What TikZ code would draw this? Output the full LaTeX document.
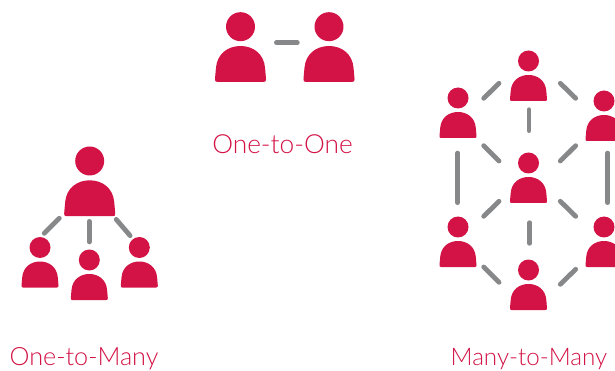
\documentclass[tikz,border=0pt]{standalone}
\usepackage{fontspec}
\usepackage{tikz}
\setmainfont{Lato Light}
\definecolor{crimson}{HTML}{D31245}
\definecolor{linkgray}{HTML}{87888A}

\begin{document}
\begin{tikzpicture}[x=1pt,y=-1pt,
    person/.style={inner sep=0pt,minimum width=38pt*#1,minimum height=52pt*#1,
      path picture={
        \fill[crimson,shift={(path picture bounding box.center)},x=#1pt,y=-#1pt]
          (0,-14.5) circle (10.5)
          (-18.5,23.5) -- (-17.8,15.5) .. controls (-17,5) and (-9,-.5) .. (0,-.5)
          .. controls (9,-.5) and (17,5) .. (17.8,15.5) -- (18.5,23.5)
          .. controls (18.7,25) and (18,25.5) .. (16.8,25.5) -- (-16.8,25.5)
          .. controls (-18,25.5) and (-18.7,25) .. (-18.5,23.5) -- cycle;
      }},
    person/.default=1,
    link/.style={draw=linkgray,line width=4.8pt,line cap=round,shorten <=1.4pt,shorten >=1.4pt},
    caption/.style={text=crimson,font=\fontsize{#1}{#1}\selectfont,inner sep=0pt,anchor=base}]
  \useasboundingbox (0,0) rectangle (615,371);
  \clip (0,0) rectangle (615,371);

  \node[person=1.38](ooleft) at (240.5,46.7){};
  \node[person=1.38](ooright) at (329,46.7){};
  \draw[link] ([shift={(34.5,-4)}]ooleft.center) -- ([shift={(-30.3,-4)}]ooright.center);
  \node[caption=26.3](oolabel) at (282.5,154){One-to-One};

  \node[person=1.38](omroot) at (89.7,181){};
  \node[person](omleft) at (40,262){};
  \node[person](ommid) at (89.3,274.5){};
  \node[person](omright) at (139.3,262){};
  \draw[link] ([shift={(-29.4,36.3)}]omroot.center) -- ([shift={(3.3,-27.7)}]omleft.center);
  \draw[link] ([shift={(-.4,39)}]omroot.center) -- ([shift={(0,-31.2)}]ommid.center);
  \draw[link] ([shift={(25.6,37.3)}]omroot.center) -- ([shift={(-8.3,-25.3)}]omright.center);
  \node[caption=25.2](omlabel) at (84,365){One-to-Many};

  \node[person](top) at (528.5,75.5){};
  \node[person](upleft) at (458,112.5){};
  \node[person](upright) at (604,115.5){};
  \node[person](mid) at (528.5,177.5){};
  \node[person](lowleft) at (458,241.5){};
  \node[person](lowright) at (604,241.5){};
  \node[person](bottom) at (528.5,284.5){};
  \draw[link] ([shift={(-28.5,6.8)}]top.center) -- ([shift={(24.7,-13.2)}]upleft.center);
  \draw[link] ([shift={(30.8,6.8)}]top.center) -- ([shift={(-27.3,-16.2)}]upright.center);
  \draw[link] ([shift={(.5,32.8)}]top.center) -- ([shift={(.5,-45.5)}]mid.center);
  \draw[link] ([shift={(-.3,39.2)}]upleft.center) -- ([shift={(-.3,-37.5)}]lowleft.center);
  \draw[link] ([shift={(3.7,36.2)}]upright.center) -- ([shift={(3.7,-37.5)}]lowright.center);
  \draw[link] ([shift={(24.7,32.2)}]upleft.center) -- ([shift={(-28.5,-15.5)}]mid.center);
  \draw[link] ([shift={(-27.3,29.2)}]upright.center) -- ([shift={(30.8,-15.5)}]mid.center);
  \draw[link] ([shift={(-28.5,22.8)}]mid.center) -- ([shift={(24.7,-24.2)}]lowleft.center);
  \draw[link] ([shift={(30.8,22.8)}]mid.center) -- ([shift={(-27.3,-24.2)}]lowright.center);
  \draw[link] ([shift={(1.2,43.8)}]mid.center) -- ([shift={(1.2,-39.8)}]bottom.center);
  \draw[link] ([shift={(24.7,24.5)}]lowleft.center) -- ([shift={(-28.5,-1.2)}]bottom.center);
  \draw[link] ([shift={(-27.3,26.8)}]lowright.center) -- ([shift={(30.8,.8)}]bottom.center);
  \node[caption=24.2](mmlabel) at (529,365){Many-to-Many};
\end{tikzpicture}
\end{document}
